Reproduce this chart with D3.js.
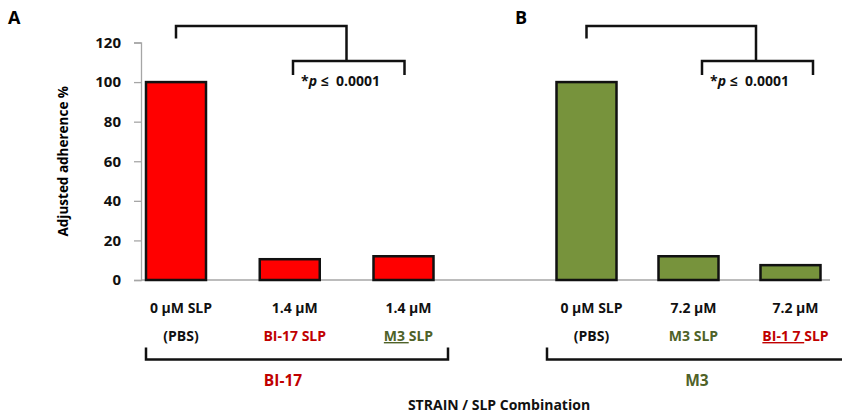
<!DOCTYPE html>
<html>
<head>
<meta charset="utf-8">
<script src="https://cdn.jsdelivr.net/npm/d3@7"></script>
<style>
  body { margin: 0; background: #fff; }
  svg text { font-family: "Open Sans", sans-serif; font-weight: 700; }
</style>
</head>
<body>
<svg id="chart" width="842" height="417"></svg>
<script>
// data
var catsA = ["PBS A", "BI-17 SLP A", "M3 SLP A"]
var valuesA = [100, 10.5, 12]
var catsB = ["PBS B", "M3 SLP B", "BI-17 SLP B"]
var valuesB = [100, 12, 7.5]
var doseA = ["0 \u00b5M SLP", "1.4 \u00b5M", "1.4 \u00b5M"]
var doseB = ["0 \u00b5M SLP", "7.2 \u00b5M", "7.2 \u00b5M"]
var yTicks = [0, 20, 40, 60, 80, 100, 120]

var RED = "#ff0000", GREEN = "#77933c"
var RED_TEXT = "#c00000", GREEN_TEXT = "#4f6228"

var svg = d3.select("#chart")

var y = d3.scaleLinear().domain([0, 120]).range([280, 42.5])
var xA = d3.scalePoint().domain(catsA).range([176, 403.5])
var xB = d3.scalePoint().domain(catsB).range([586.5, 790.5])
var barW = 60

// y axis
var yAxis = svg.append("g")
    .attr("transform", "translate(141,0)")
    .call(d3.axisLeft(y).tickValues(yTicks).tickSize(7).tickPadding(13))
yAxis.select(".domain").attr("stroke", "#a6a6a6").attr("stroke-width", 1.3)
yAxis.selectAll(".tick line").attr("stroke", "#a6a6a6").attr("stroke-width", 1.3)
yAxis.selectAll(".tick text")
    .attr("fill", "#111")
    .attr("font-size", 15)

// baseline across both panels
svg.append("line")
    .attr("x1", 141).attr("x2", 830)
    .attr("y1", y(0)).attr("y2", y(0))
    .attr("stroke", "#a6a6a6").attr("stroke-width", 1.5)

svg.append("text")
    .attr("transform", "translate(68," + ((y(0) + y(120)) / 2) + ") rotate(-90)")
    .attr("text-anchor", "middle")
    .attr("font-size", 13.5)
    .text("Adjusted adherence %")

// bars
function bars(cats, vals, x, fill) {
    svg.append("g").selectAll("rect")
        .data(cats)
        .enter()
        .append("rect")
            .attr("x", d => x(d) - barW / 2)
            .attr("width", barW)
            .attr("y", (d, i) => y(vals[i]))
            .attr("height", (d, i) => y(0) - y(vals[i]))
            .attr("fill", fill)
            .attr("stroke", "#111")
            .attr("stroke-width", 2.5)
}
bars(catsA, valuesA, xA, RED)
bars(catsB, valuesB, xB, GREEN)

// significance brackets
function sig(x1, x2, x3, x4) {
    var g = svg.append("g")
        .attr("fill", "none")
        .attr("stroke", "#111")
        .attr("stroke-width", 2.5)
    var mid = x2
    g.append("path").attr("d", "M" + x1 + ",38.5V26H" + mid + "V61")
    g.append("path").attr("d", "M" + x3 + ",75V61H" + x4 + "V75")
    var t = svg.append("text")
        .attr("x", x3 + 8)
        .attr("y", 86)
        .attr("font-size", 14)
        .attr("fill", "#111")
    t.append("tspan").text("*")
    t.append("tspan").attr("font-style", "italic").text("p")
    t.append("tspan").text("\u00a0\u2264\u00a0\u00a00.0001")
}
sig(xA(catsA[0]), 346.5, 293, 404.5)
sig(xB(catsB[0]), 756, 702, 813)

// panel letters
svg.append("text").attr("x", 8).attr("y", 24).attr("font-size", 18).text("A")
svg.append("text").attr("x", 515).attr("y", 24).attr("font-size", 18).text("B")

// category labels
function catLabels(cats, x, dose, second) {
    var g = svg.append("g").attr("text-anchor", "middle")
    g.selectAll(".dose")
        .data(cats)
        .enter()
        .append("text")
            .attr("class", "dose")
            .attr("font-size", 14)
            .attr("x", d => x(d) + 5)
            .attr("y", 313)
            .attr("fill", "#111")
            .text((d, i) => dose[i])
    cats.forEach((c, i) => {
        var t = g.append("text").attr("x", x(c) + 5).attr("y", 341).attr("font-size", 14)
        second[i].forEach(s => {
            var sp = t.append("tspan").attr("fill", s.color).text(s.text)
            if (s.underline) sp.attr("text-decoration", "underline")
        })
    })
}
catLabels(catsA, xA, doseA, [
    [{ text: "(PBS)", color: "#111" }],
    [{ text: "BI-17 SLP", color: RED_TEXT }],
    [{ text: "M3\u00a0", color: GREEN_TEXT, underline: true }, { text: "SLP", color: GREEN_TEXT }]
])
catLabels(catsB, xB, doseB, [
    [{ text: "(PBS)", color: "#111" }],
    [{ text: "M3 SLP", color: GREEN_TEXT }],
    [{ text: "BI-1 7\u00a0", color: RED_TEXT, underline: true }, { text: "SLP", color: RED_TEXT }]
])

// strain brackets
var strain = svg.append("g").attr("fill", "none").attr("stroke", "#111").attr("stroke-width", 2.5)
strain.append("path").attr("d", "M146,347.5V359.5H448V347.5")
strain.append("path").attr("d", "M547,347.5V359.5H845")

svg.append("text").attr("x", 283).attr("y", 386).attr("text-anchor", "middle")
    .attr("font-size", 15.5).attr("fill", RED_TEXT).text("BI-17")
svg.append("text").attr("x", 697).attr("y", 386).attr("text-anchor", "middle")
    .attr("font-size", 15.5).attr("fill", GREEN_TEXT).text("M3")

svg.append("text").attr("x", 499).attr("y", 410).attr("text-anchor", "middle")
    .attr("font-size", 14).attr("fill", "#111").text("STRAIN / SLP Combination")
</script>
</body>
</html>
